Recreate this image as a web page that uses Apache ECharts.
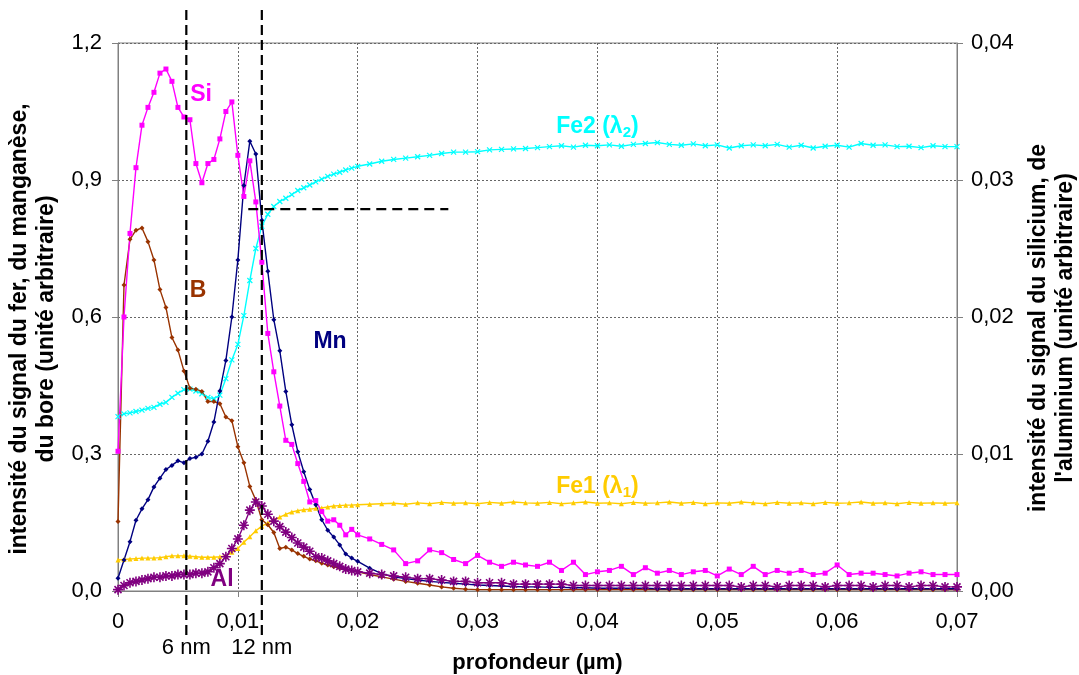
<!DOCTYPE html>
<html><head><meta charset="utf-8">
<script src="https://cdn.jsdelivr.net/npm/echarts@6/dist/echarts.min.js"></script>
<style>html,body{margin:0;padding:0;background:#fff}#c{width:1079px;height:675px}</style>
</head><body><div id="c"></div>
<script>
// depth (µm)
const depth = [
0,0.0005,0.001,0.0015,0.002,0.0025,0.003,0.0035,0.004,0.0045,
0.005,0.0055,0.006,0.0065,0.007,0.0075,0.008,0.0085,0.009,0.0095,
0.010,0.0105,0.011,0.0115,0.012,0.0125,0.013,0.0135,0.014,0.0145,
0.015,0.0155,0.016,0.0165,0.017,0.0175,0.018,0.0185,0.019,0.0195,
0.020,
0.021,0.022,0.023,0.024,0.025,0.026,0.027,0.028,0.029,0.030,
0.031,0.032,0.033,0.034,0.035,0.036,0.037,0.038,0.039,0.040,
0.041,0.042,0.043,0.044,0.045,0.046,0.047,0.048,0.049,0.050,
0.051,0.052,0.053,0.054,0.055,0.056,0.057,0.058,0.059,0.060,
0.061,0.062,0.063,0.064,0.065,0.066,0.067,0.068,0.069,0.070];

// left axis series
const fe2 = [
0.382,0.388,0.390,0.393,0.396,0.400,0.402,0.409,0.413,0.424,
0.433,0.441,0.442,0.438,0.432,0.424,0.421,0.429,0.465,0.506,
0.540,0.603,0.680,0.750,0.799,0.825,0.842,0.853,0.860,0.868,
0.877,0.883,0.889,0.896,0.902,0.908,0.913,0.917,0.922,0.926,
0.930,
0.935,0.941,0.945,0.948,0.951,0.954,0.958,0.961,0.961,0.962,
0.966,0.967,0.968,0.969,0.971,0.973,0.975,0.972,0.976,0.975,
0.977,0.974,0.978,0.980,0.982,0.978,0.976,0.979,0.975,0.977,
0.970,0.975,0.977,0.975,0.978,0.972,0.976,0.970,0.974,0.976,
0.972,0.980,0.976,0.977,0.973,0.974,0.971,0.975,0.973,0.973];

const fe1 = [
0.068,0.069,0.070,0.071,0.072,0.072,0.072,0.073,0.075,0.077,
0.077,0.077,0.076,0.075,0.074,0.074,0.074,0.075,0.077,0.085,
0.093,0.107,0.119,0.132,0.142,0.149,0.156,0.162,0.168,0.173,
0.176,0.178,0.179,0.181,0.182,0.184,0.186,0.187,0.188,0.188,
0.189,
0.190,0.191,0.192,0.190,0.193,0.191,0.194,0.192,0.193,0.191,
0.194,0.192,0.195,0.193,0.192,0.194,0.191,0.193,0.195,0.192,
0.193,0.191,0.194,0.192,0.193,0.195,0.192,0.194,0.191,0.193,
0.192,0.195,0.193,0.191,0.194,0.192,0.193,0.191,0.194,0.192,
0.193,0.195,0.192,0.193,0.191,0.194,0.192,0.193,0.192,0.193];

const mn = [
0.028,0.068,0.108,0.155,0.180,0.200,0.228,0.247,0.266,0.275,
0.285,0.281,0.290,0.293,0.300,0.328,0.370,0.438,0.505,0.600,
0.725,0.888,0.985,0.957,0.812,0.700,0.594,0.526,0.437,0.364,
0.305,0.261,0.222,0.189,0.156,0.133,0.118,0.101,0.081,0.072,
0.065,
0.050,0.038,0.031,0.027,0.024,0.021,0.019,0.017,0.015,0.013,
0.012,0.011,0.010,0.009,0.009,0.008,0.008,0.007,0.007,0.006,
0.006,0.006,0.006,0.006,0.005,0.005,0.005,0.005,0.005,0.005,
0.005,0.005,0.005,0.005,0.005,0.005,0.005,0.005,0.005,0.005,
0.005,0.005,0.005,0.005,0.005,0.005,0.005,0.005,0.005,0.005];

const bore = [
0.152,0.670,0.770,0.790,0.795,0.765,0.725,0.660,0.621,0.555,
0.528,0.482,0.444,0.442,0.437,0.415,0.415,0.410,0.381,0.373,
0.316,0.281,0.229,0.199,0.156,0.145,0.128,0.093,0.096,0.090,
0.082,0.076,0.070,0.066,0.061,0.057,0.053,0.050,0.047,0.045,
0.042,
0.036,0.031,0.026,0.021,0.017,0.013,0.009,0.006,0.004,0.003,
0.003,0.003,0.003,0.003,0.003,0.003,0.003,0.003,0.003,0.003,
0.003,0.003,0.003,0.003,0.003,0.003,0.003,0.003,0.003,0.003,
0.003,0.003,0.003,0.003,0.003,0.003,0.003,0.003,0.003,0.003,
0.003,0.003,0.003,0.003,0.003,0.003,0.003,0.003,0.003,0.003];

// right axis series
const si = [
0.0102,0.0200,0.0261,0.0309,0.0340,0.0353,0.0364,0.0378,0.0381,0.0372,
0.0353,0.0346,0.0344,0.0312,0.0298,0.0312,0.0315,0.0330,0.0350,0.0357,
0.0318,0.0288,0.0314,0.0284,0.0240,0.0188,0.0160,0.0135,0.0110,0.0107,
0.0093,0.0080,0.0065,0.0066,0.0058,0.0051,0.0052,0.0048,0.0041,0.0045,
0.0041,
0.0038,0.0034,0.0030,0.0020,0.0022,0.0030,0.0028,0.0023,0.0020,0.0026,
0.0021,0.0018,0.0021,0.0019,0.0018,0.0021,0.0015,0.0021,0.0012,0.0014,
0.0015,0.0018,0.0012,0.0017,0.0013,0.0015,0.0012,0.0014,0.0015,0.0011,
0.0016,0.0012,0.0018,0.0012,0.0015,0.0013,0.0015,0.0012,0.0013,0.0019,
0.0012,0.0013,0.0013,0.0012,0.0011,0.0013,0.0014,0.0012,0.0012,0.0012];

const al = [
0.0001,0.0004,0.0006,0.0007,0.0008,0.0009,0.0010,0.0010,0.0011,0.0011,
0.0012,0.0012,0.0012,0.0013,0.0013,0.0014,0.0017,0.0020,0.0025,0.0031,
0.0038,0.0048,0.0059,0.0065,0.0062,0.0056,0.0051,0.0047,0.0043,0.0039,
0.0035,0.0032,0.0029,0.0025,0.0024,0.0022,0.0020,0.0018,0.0016,0.0015,
0.0014,
0.0013,0.0012,0.0011,0.0010,0.0009,0.0009,0.0008,0.0007,0.0007,0.0006,
0.0006,0.0006,0.0005,0.0005,0.0005,0.0005,0.0005,0.0004,0.0004,0.0004,
0.0004,0.0004,0.0004,0.0004,0.0004,0.0004,0.0004,0.0004,0.0004,0.0004,
0.0004,0.0003,0.0004,0.0004,0.0003,0.0004,0.0004,0.0004,0.0003,0.0004,
0.0004,0.0004,0.0003,0.0004,0.0004,0.0003,0.0004,0.0004,0.0003,0.0003];

// reference depths (dashed lines)
const refDepths = [0.0057, 0.012];
const refLabels = ['6 nm', '12 nm'];

const FONT = '"Liberation Sans", Arial, sans-serif';
const pair = arr => depth.map((d, i) => [d, arr[i]]);
const comma = (v, n) => v.toFixed(n).replace('.', ',');

const X_PATH = 'path://M0,0L10,10M10,0L0,10';
const STAR_PATH = 'path://M5,0L5,10M0,5L10,5M1.5,1.5L8.5,8.5M8.5,1.5L1.5,8.5';

function line(name, data, color, yIdx, symbol, size, stroke, bw) {
  return {
    name, type: 'line', data: pair(data), yAxisIndex: yIdx,
    symbol, symbolSize: size, showSymbol: true,
    lineStyle: { color, width: 1.4 },
    itemStyle: stroke ? { color, borderColor: color, borderWidth: bw || 1.2 } : { color },
    emphasis: { disabled: true }, z: 3
  };
}

const chart = echarts.init(document.getElementById('c'), null, { renderer: 'canvas' });
const option = {
  animation: false,
  backgroundColor: '#fff',
  textStyle: { fontFamily: FONT },
  grid: { left: 118, right: 122, top: 43, bottom: 84, containLabel: false, outerBoundsMode: 'none',
    show: true, borderColor: '#808080', borderWidth: 1 },
  xAxis: {
    type: 'value', min: 0, max: 0.07, interval: 0.01,
    name: 'profondeur (µm)', nameLocation: 'middle', nameGap: 61,
    nameTextStyle: { fontFamily: FONT, fontWeight: 'bold', fontSize: 22, color: '#000' },
    axisLine: { lineStyle: { color: '#808080' } },
    axisTick: { show: true, length: 6, lineStyle: { color: '#808080' } },
    axisLabel: { fontFamily: FONT, fontSize: 22, color: '#000', margin: 20,
      formatter: v => v === 0 ? '0' : comma(v, 2) },
    splitLine: { show: true, lineStyle: { color: '#666', type: [2, 2], width: 1 } }
  },
  yAxis: [{
    type: 'value', min: 0, max: 1.2, interval: 0.3, position: 'left',
    name: 'intensité du signal du fer, du manganèse,\ndu bore (unité arbitraire)',
    nameLocation: 'middle', nameGap: 58, nameRotate: 90,
    nameTextStyle: { fontFamily: FONT, fontWeight: 'bold', fontSize: 23, color: '#000', lineHeight: 27, padding: [0, 24, 0, 0] },
    axisLine: { show: true, lineStyle: { color: '#808080' } },
    axisTick: { show: true, length: 6, lineStyle: { color: '#808080' } },
    axisLabel: { fontFamily: FONT, fontSize: 22, color: '#000', margin: 16, formatter: v => comma(v, 1) },
    splitLine: { show: true, lineStyle: { color: '#666', type: [2, 2], width: 1 } }
  }, {
    type: 'value', min: 0, max: 0.04, interval: 0.01, position: 'right',
    name: "intensité du signal du silicium, de\nl'aluminium (unité arbitraire)",
    nameLocation: 'middle', nameGap: 67, nameRotate: 90,
    nameTextStyle: { fontFamily: FONT, fontWeight: 'bold', fontSize: 23, color: '#000', lineHeight: 27, padding: [0, 22, 0, 0] },
    axisLine: { show: true, lineStyle: { color: '#808080' } },
    axisTick: { show: true, length: 6, lineStyle: { color: '#808080' } },
    axisLabel: { fontFamily: FONT, fontSize: 22, color: '#000', margin: 14, formatter: v => comma(v, 2) },
    splitLine: { show: false }
  }],
  series: [
    line('Fe2 (λ2)', fe2, '#00FFFF', 0, X_PATH, 5, true),
    line('Fe1 (λ1)', fe1, '#FFCC00', 0, 'triangle', 5, false),
    line('B', bore, '#993300', 0, 'diamond', 5, false),
    line('Mn', mn, '#000080', 0, 'diamond', 5, false),
    line('Si', si, '#FF00FF', 1, 'rect', 5, false),
    line('Al', al, '#800080', 1, STAR_PATH, 10, true, 1.6)
  ]
};
chart.setOption(option);

// annotations (positions in data units of the left axis)
const notes = [
  { text: '{t|Si}', at: [0.006925, 1.086], color: '#FF00FF' },
  { text: '{t|B}', at: [0.00668, 0.657], color: '#993300' },
  { text: '{t|Mn}', at: [0.01769, 0.545], color: '#000080' },
  { text: '{t|Al}', at: [0.00868, 0.0241], color: '#800080' },
  { text: '{t|Fe2 (λ}{s|2}{t|)}', at: [0.0400, 1.016], color: '#00FFFF' },
  { text: '{t|Fe1 (λ}{s|1}{t|)}', at: [0.0400, 0.2277], color: '#FFCC00' }
];
const toPx = p => chart.convertToPixel({ xAxisIndex: 0, yAxisIndex: 0 }, p);
const graphics = [];
notes.forEach(n => {
  const p = toPx(n.at);
  graphics.push({
    type: 'text', x: p[0], y: p[1], z: 10,
    style: {
      text: n.text, align: 'center', verticalAlign: 'middle',
      rich: {
        t: { fontFamily: FONT, fontWeight: 'bold', fontSize: 23, fill: n.color },
        s: { fontFamily: FONT, fontWeight: 'bold', fontSize: 15, fill: n.color, padding: [12, 0, 0, 0] }
      }
    }
  });
});
refDepths.forEach((d, i) => {
  const p = toPx([d, 0]);
  graphics.push({ type: 'line', z: 20, shape: { x1: p[0], y1: 10, x2: p[0], y2: 636 },
    style: { stroke: '#000', lineWidth: 2.2, lineDash: [10, 5] } });
  graphics.push({ type: 'text', z: 20, x: p[0], y: 648,
    style: { text: refLabels[i], align: 'center', verticalAlign: 'middle', fontFamily: FONT, fontSize: 22, fill: '#000' } });
});
const h1 = toPx([0.01087, 0.8364]), h2 = toPx([0.02756, 0.8364]);
graphics.push({ type: 'line', z: 20, shape: { x1: h1[0], y1: h1[1], x2: h2[0], y2: h2[1] },
  style: { stroke: '#000', lineWidth: 2.2, lineDash: [10, 6] } });
chart.setOption({ graphic: graphics });
</script>
</body></html>
